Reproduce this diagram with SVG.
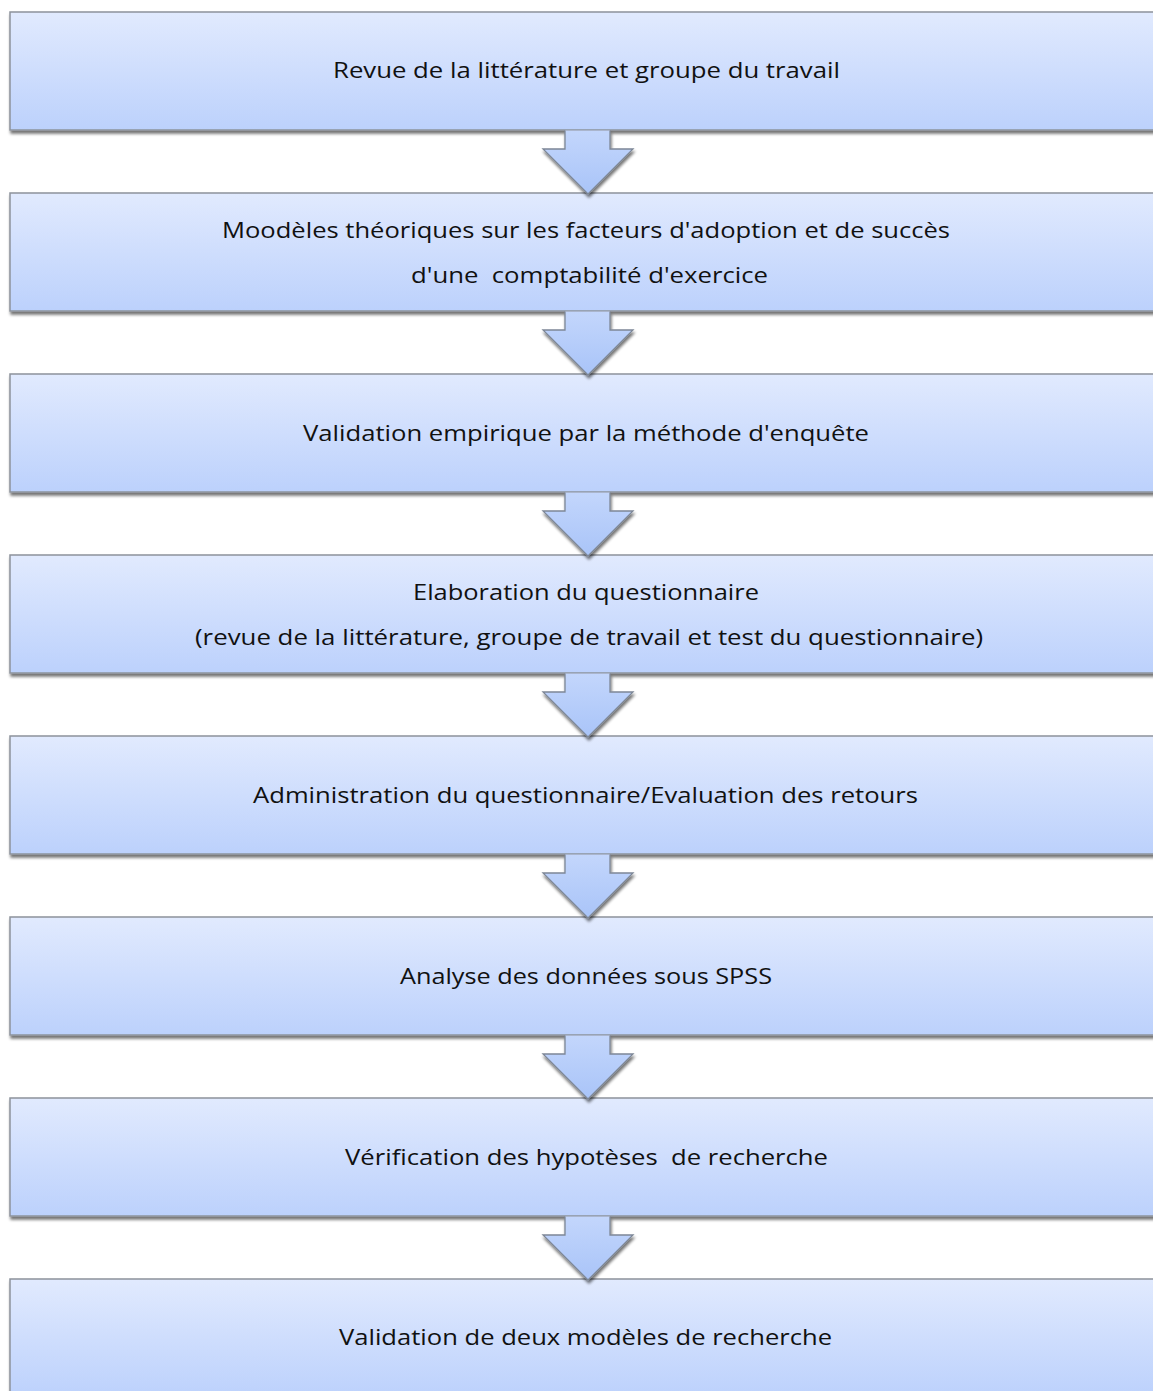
<svg xmlns="http://www.w3.org/2000/svg" width="1153" height="1391" viewBox="0 0 1153 1391">
<defs>
<linearGradient id="boxGrad" x1="0" y1="0" x2="0" y2="1">
<stop offset="0" stop-color="#e1eafe"/>
<stop offset="1" stop-color="#bcd1fc"/>
</linearGradient>
<linearGradient id="arrowGrad" x1="0" y1="0" x2="0" y2="1">
<stop offset="0" stop-color="#c3d6fc"/>
<stop offset="1" stop-color="#a9c4f8"/>
</linearGradient>
<filter id="shadow" x="-5%" y="-20%" width="115%" height="150%">
<feGaussianBlur in="SourceAlpha" stdDeviation="1.8"/>
<feOffset dx="1" dy="2.5" result="b"/>
<feComponentTransfer><feFuncA type="linear" slope="0.55"/></feComponentTransfer>
<feMerge><feMergeNode/><feMergeNode in="SourceGraphic"/></feMerge>
</filter>
</defs>
<style>
.box{fill:url(#boxGrad);stroke:#8d939c;stroke-width:1.5;filter:url(#shadow)}
.arr{fill:url(#arrowGrad);stroke:#7d8796;stroke-width:1.3;stroke-linejoin:miter;filter:url(#shadow)}
.t{font-family:"Open Sans","Liberation Sans",sans-serif;font-size:22px;fill:#111;text-anchor:middle;font-variant-ligatures:none}
</style>
<rect width="1153" height="1391" fill="#ffffff"/>
<g id="n1"><rect class="box" x="10" y="12" width="1160" height="118"/>
<text class="t" x="586.5" y="78" textLength="507" lengthAdjust="spacingAndGlyphs">Revue de la littérature et groupe du travail</text></g>
<g id="n2"><rect class="box" x="10" y="193" width="1160" height="118"/>
<text class="t" x="586" y="238" textLength="728" lengthAdjust="spacingAndGlyphs">Moodèles théoriques sur les facteurs d'adoption et de succès</text>
<text class="t" x="589.5" y="283" textLength="357" lengthAdjust="spacingAndGlyphs" xml:space="preserve">d'une  comptabilité d'exercice</text></g>
<g id="n3"><rect class="box" x="10" y="374" width="1160" height="118"/>
<text class="t" x="586" y="441" textLength="566" lengthAdjust="spacingAndGlyphs">Validation empirique par la méthode d'enquête</text></g>
<g id="n4"><rect class="box" x="10" y="555" width="1160" height="118"/>
<text class="t" x="586" y="600" textLength="346" lengthAdjust="spacingAndGlyphs">Elaboration du questionnaire</text>
<text class="t" x="589" y="645" textLength="788" lengthAdjust="spacingAndGlyphs">(revue de la littérature, groupe de travail et test du questionnaire)</text></g>
<g id="n5"><rect class="box" x="10" y="736" width="1160" height="118"/>
<text class="t" x="585.5" y="803" textLength="665" lengthAdjust="spacingAndGlyphs">Administration du questionnaire/Evaluation des retours</text></g>
<g id="n6"><rect class="box" x="10" y="917" width="1160" height="118"/>
<text class="t" x="586" y="984" textLength="372" lengthAdjust="spacingAndGlyphs">Analyse des données sous SPSS</text></g>
<g id="n7"><rect class="box" x="10" y="1098" width="1160" height="118"/>
<text class="t" x="586.5" y="1165" textLength="483" lengthAdjust="spacingAndGlyphs" xml:space="preserve">Vérification des hypotèses  de recherche</text></g>
<g id="n8"><rect class="box" x="10" y="1279" width="1160" height="118"/>
<text class="t" x="585.5" y="1345" textLength="493" lengthAdjust="spacingAndGlyphs">Validation de deux modèles de recherche</text></g>
<g id="connectors">
<path class="arr" d="M565,130.5 L565,149 L543,149 L588,194 L633,149 L610,149 L610,130.5"/>
<path class="arr" d="M565,311.5 L565,330 L543,330 L588,375 L633,330 L610,330 L610,311.5"/>
<path class="arr" d="M565,492.5 L565,511 L543,511 L588,556 L633,511 L610,511 L610,492.5"/>
<path class="arr" d="M565,673.5 L565,692 L543,692 L588,737 L633,692 L610,692 L610,673.5"/>
<path class="arr" d="M565,854.5 L565,873 L543,873 L588,918 L633,873 L610,873 L610,854.5"/>
<path class="arr" d="M565,1035.5 L565,1054 L543,1054 L588,1099 L633,1054 L610,1054 L610,1035.5"/>
<path class="arr" d="M565,1216.5 L565,1235 L543,1235 L588,1280 L633,1235 L610,1235 L610,1216.5"/>
</g>
</svg>
